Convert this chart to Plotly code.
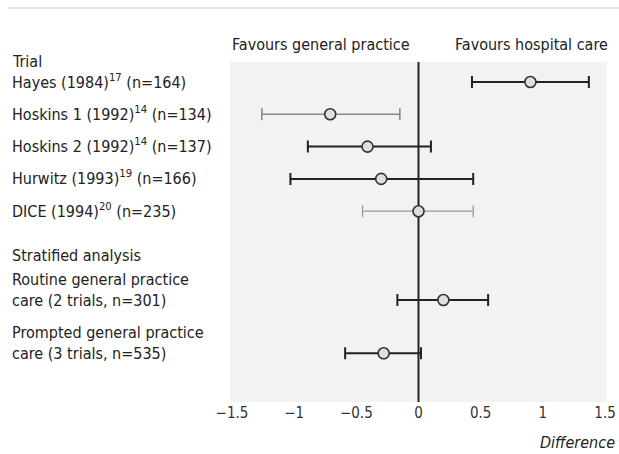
import plotly.graph_objects as go

# Data
trials = ["Hayes (1984)<sup>17</sup> (n=164)", "Hoskins 1 (1992)<sup>14</sup> (n=134)",
          "Hoskins 2 (1992)<sup>14</sup> (n=137)", "Hurwitz (1993)<sup>19</sup> (n=166)",
          "DICE (1994)<sup>20</sup> (n=235)",
          "Routine general practice<br>care (2 trials, n=301)",
          "Prompted general practice<br>care (3 trials, n=535)"]
estimate = [0.90, -0.71, -0.41, -0.30, 0.00, 0.20, -0.28]
lower = [0.43, -1.26, -0.89, -1.03, -0.45, -0.17, -0.59]
upper = [1.37, -0.15, 0.10, 0.44, 0.44, 0.56, 0.02]
row_pos = [0, 1, 2, 3, 4, 6.75, 8.4]
line_color = ["#222", "#888", "#222", "#222", "#999", "#222", "#222"]
line_width = [2, 1.6, 2, 2, 1.3, 2, 2]
tick_vals = [-1.5, -1, -0.5, 0, 0.5, 1, 1.5]
tick_text = ["\u22121.5", "\u22121", "\u22120.5", "0", "0.5", "1", "1.5"]

FONT = "DejaVu Sans Condensed, Liberation Sans Narrow, sans-serif"

fig = go.Figure()
for i in range(len(trials)):
    fig.add_trace(go.Scatter(
        x=[estimate[i]], y=[row_pos[i]], mode="markers",
        marker=dict(symbol="circle", size=11, color="#e0e0e0",
                    line=dict(color="#333", width=1.6)),
        error_x=dict(type="data", symmetric=False,
                     array=[upper[i] - estimate[i]],
                     arrayminus=[estimate[i] - lower[i]],
                     color=line_color[i], thickness=line_width[i], width=6),
        showlegend=False, hoverinfo="skip"))

# zero line
fig.add_shape(type="line", xref="x", yref="paper", x0=0, x1=0, y0=0, y1=1,
              line=dict(color="#222", width=2), layer="below")

W, H = 619, 454
L, R, T, B = 230, 12, 62, 52

def px_x(p):
    return (p - L) / (W - L - R)

def px_y(p):
    return 1 - (p - T) / (H - T - B)

# top rule
fig.add_shape(type="line", xref="paper", yref="paper", x0=px_x(8), x1=px_x(619),
              y0=px_y(8), y1=px_y(8), line=dict(color="#cccccc", width=1))

ann = []
ann.append(dict(text="Trial", x=px_x(10), y=px_y(61), xref="paper", yref="paper",
                xanchor="left", yanchor="middle", showarrow=False))
for i in range(len(trials)):
    two_line = "<br>" in trials[i]
    ann.append(dict(text=trials[i], x=px_x(10), y=row_pos[i], xref="paper", yref="y",
                    xanchor="left", yanchor="middle", showarrow=False, align="left",
                    yshift=10 if two_line else 1))
ann.append(dict(text="Stratified analysis", x=px_x(10), y=px_y(255), xref="paper", yref="paper",
                xanchor="left", yanchor="middle", showarrow=False))
ann.append(dict(text="Favours general practice", x=px_x(321), y=px_y(45), xref="paper",
                yref="paper", xanchor="center", yanchor="middle", showarrow=False))
ann.append(dict(text="Favours hospital care", x=px_x(531), y=px_y(45), xref="paper",
                yref="paper", xanchor="center", yanchor="middle", showarrow=False))
ann.append(dict(text="<i>Difference</i>", x=px_x(617), y=px_y(442), xref="paper",
                yref="paper", xanchor="right", yanchor="middle", showarrow=False))
fig.update_layout(annotations=ann)

unit = 32.3
fig.update_layout(
    width=W, height=H,
    margin=dict(l=L, r=R, t=T, b=B, autoexpand=False),
    paper_bgcolor="white", plot_bgcolor="#f2f2f2",
    font=dict(family=FONT, size=16, color="#222"),
    xaxis=dict(range=[-1.516, 1.516], tickvals=tick_vals, ticktext=tick_text,
               showgrid=False, zeroline=False, showline=False, ticks="",
               automargin=False, tickfont=dict(size=15, color="#333")),
    yaxis=dict(range=[(402 - 82) / unit, -(82 - 62) / unit], showgrid=False,
               zeroline=False, showticklabels=False, showline=False, ticks="",
               automargin=False),
)

fig.write_html("out.html")
